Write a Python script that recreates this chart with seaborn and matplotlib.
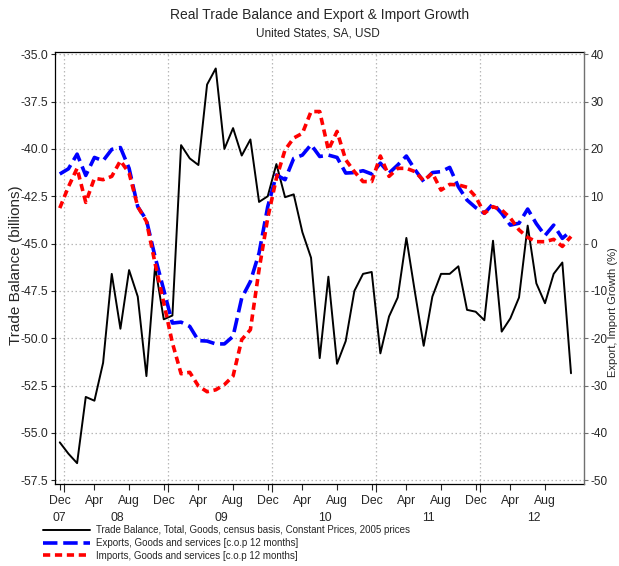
import numpy as np
import pandas as pd
import matplotlib
matplotlib.use("Agg")
import matplotlib.pyplot as plt
import seaborn as sns
from matplotlib.lines import Line2D

# ---------------- data (monthly, Dec 2007 .. Nov 2012) ----------------
trade_balance = [-55.5, -56.1, -56.6, -53.1, -53.3, -51.3, -46.6, -49.5, -46.4, -47.8,
                 -52.0, -46.2, -49.0, -48.8, -39.8, -40.5, -40.85, -36.6, -35.75, -40.0,
                 -38.9, -40.35, -39.5, -42.8, -42.5, -40.8, -42.55, -42.4, -44.4, -45.75,
                 -51.05, -46.75, -51.35, -50.15, -47.5, -46.6, -46.5, -50.8, -48.85, -47.85,
                 -44.7, -47.6, -50.4, -47.8, -46.6, -46.6, -46.2, -48.5, -48.6, -49.05,
                 -44.85, -49.65, -48.95, -47.85, -44.05, -47.1, -48.15, -46.6, -46.0, -51.85]
exports_growth = [14.7, 15.8, 18.9, 14.4, 18.2, 17.5, 19.9, 20.3, 15.9, 7.8,
                  5.0, -2.8, -9.8, -16.8, -16.6, -17.5, -20.5, -20.6, -21.2, -21.2,
                  -19.6, -11.5, -8.0, -2.0, 7.8, 14.5, 13.5, 18.0, 18.7, 20.9,
                  18.4, 18.7, 18.2, 14.9, 15.0, 15.4, 14.7, 17.0, 14.9, 16.6,
                  18.5, 15.6, 13.1, 15.0, 15.2, 16.1, 12.0, 9.2, 7.6, 6.4,
                  8.4, 6.4, 3.9, 4.3, 7.3, 4.2, 1.7, 3.9, 1.1, 2.7]
imports_growth = [7.5, 12.0, 15.9, 8.7, 13.8, 13.5, 14.2, 17.5, 14.9, 7.8,
                  4.7, -4.2, -12.5, -21.0, -27.5, -27.2, -30.1, -31.3, -30.9, -29.8,
                  -28.0, -20.3, -18.2, -5.5, 5.4, 13.8, 19.8, 22.3, 23.3, 27.9,
                  27.9, 19.8, 23.7, 17.7, 15.2, 13.1, 13.1, 18.5, 14.2, 15.9,
                  15.9, 15.2, 13.3, 14.9, 11.3, 12.5, 12.4, 11.9, 9.9, 6.4,
                  7.8, 7.1, 5.4, 2.9, 1.3, 0.4, 0.4, 0.9, -0.6, 1.5]
month_tick_labels = ["Dec", "Apr", "Aug"] * 5
year_labels = ["07", "08", "09", "10", "11", "12"]
left_ticks = [-35.0, -37.5, -40.0, -42.5, -45.0, -47.5, -50.0, -52.5, -55.0, -57.5]
right_ticks = [40, 30, 20, 10, 0, -10, -20, -30, -40, -50]
legend_labels = ["Trade Balance, Total, Goods, census basis, Constant Prices, 2005 prices",
                 "Exports, Goods and services [c.o.p 12 months]",
                 "Imports, Goods and services [c.o.p 12 months]"]

n = len(trade_balance)
df = pd.DataFrame({"month": np.arange(n),
                   "tb": trade_balance,
                   "ex": exports_growth,
                   "im": imports_growth})

sns.set_style("white")
plt.rcParams["font.family"] = ["Liberation Sans", "DejaVu Sans"]

W, H = 619, 566
fig = plt.figure(figsize=(W / 100, H / 100), dpi=100)
ax = fig.add_axes([55 / W, 1 - 484 / H, (584 - 55) / W, (484 - 52) / H])
ax2 = ax.twinx()

sns.lineplot(data=df, x="month", y="tb", ax=ax, color="black", linewidth=1.4)
sns.lineplot(data=df, x="month", y="ex", ax=ax2, color="#0000ff", linewidth=2.6)
sns.lineplot(data=df, x="month", y="im", ax=ax2, color="#ff0000", linewidth=2.6)
blue_line, red_line = ax2.lines[0], ax2.lines[1]
blue_line.set_dashes([4.0, 1.6])
red_line.set_dashes([2.0, 1.3])

# limits
ylo, yhi = -57.7, -34.88
ax.set_ylim(ylo, yhi)
ax2.set_ylim(40 + 4 * (ylo + 35), 40 + 4 * (yhi + 35))
ax.set_xlim(-0.55, 60.5)

# y ticks
ax.set_yticks(left_ticks)
ax.set_yticklabels([f"{v:.1f}" for v in left_ticks])
ax2.set_yticks(right_ticks)
ax2.set_yticklabels([f"{v:d}" for v in right_ticks])

# x ticks: gridlines at year boundaries (major), labels every 4 months (minor)
major_x = [0.5 + 12 * j for j in range(5)]
minor_x = [4 * j for j in range(len(month_tick_labels))]
ax.set_xticks(major_x)
ax.set_xticklabels([""] * len(major_x))
ax.set_xticks(minor_x, minor=True)
ax.set_xticklabels(month_tick_labels, minor=True)

ax.tick_params(axis="x", which="major", length=6, width=0.8, direction="out", bottom=True)
ax.tick_params(axis="x", which="minor", length=4, width=0.8, direction="out", bottom=True,
               labelsize=8.8, pad=4)
ax.tick_params(axis="y", length=3, width=0.8, direction="out", left=True, labelsize=8.8, pad=2)
ax2.tick_params(axis="y", length=3, width=0.8, direction="out", right=True, labelsize=8.5,
                pad=1.5, color="#707070")

year_pos = [0, 6.6, 18.6, 30.6, 42.6, 54.7]
for yl, xp in zip(year_labels, year_pos):
    ax.text(xp, -0.078, yl, transform=ax.get_xaxis_transform(), ha="center", va="center",
            fontsize=8.8)

# grid
ax.grid(True, which="major", axis="both", linestyle=(0, (1.2, 2.0)), color="#b8b8b8",
        linewidth=0.9)
ax.set_axisbelow(True)

for sp in ["left", "bottom", "top"]:
    ax.spines[sp].set_color("black")
    ax.spines[sp].set_linewidth(0.9)
ax2.spines["right"].set_color("#707070")
ax2.spines["right"].set_linewidth(0.9)
for sp in ["left", "bottom", "top"]:
    ax2.spines[sp].set_visible(False)

ax.set_xlabel("")
ax.set_ylabel("")
ax2.set_ylabel("")

# labels and titles
fig.text(16 / W, 1 - 265 / H, "Trade Balance (billions)", rotation=90, ha="center",
         va="center", fontsize=11)
fig.text(613.0 / W, 1 - 312 / H, "Export, Import Growth (%)", rotation=90, ha="center",
         va="center", fontsize=8)
fig.text(320 / W, 1 - 15 / H, "Real Trade Balance and Export & Import Growth",
         ha="center", va="center", fontsize=10)
fig.text(318 / W, 1 - 33 / H, "United States, SA, USD", ha="center", va="center",
         fontsize=8.5)

# legend
handles = [Line2D([], [], color="black", linewidth=1.4),
           Line2D([], [], color="#0000ff", linewidth=2.6, dashes=[4.0, 1.6]),
           Line2D([], [], color="#ff0000", linewidth=2.6, dashes=[2.0, 1.3])]
fig.legend(handles, legend_labels, loc="upper left", bbox_to_anchor=(43 / W, 1 - 525 / H),
           frameon=False, fontsize=7.0, handlelength=4.8, handletextpad=0.7,
           labelspacing=0.3, borderpad=0.0, borderaxespad=0.0)

fig.savefig("out.png", dpi=100)
